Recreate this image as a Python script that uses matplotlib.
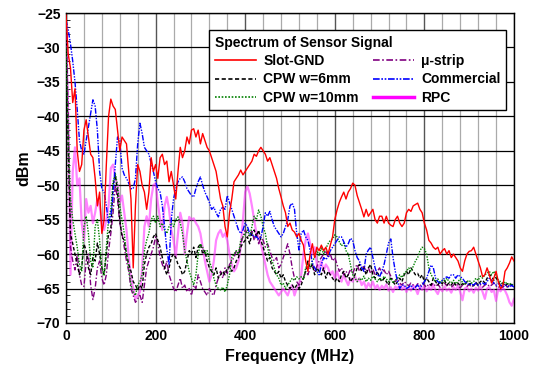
import numpy as np
import matplotlib
matplotlib.use("Agg")
import matplotlib.pyplot as plt
from matplotlib.lines import Line2D
from matplotlib.ticker import MultipleLocator

plt.rcParams["font.family"] = ["Liberation Sans", "DejaVu Sans"]
plt.rcParams["font.weight"] = "bold"

# frequency grid (MHz), 5 MHz steps
freq = np.arange(0, 1001, 5)

slot_gnd = [
    -25.3, -31, -33, -38, -36, -45, -48, -47, -42, -40.5,
    -43, -45.5, -46, -49, -53, -51, -57, -55, -47, -40,
    -37.5, -38.5, -39, -42, -45, -43, -43.5, -44, -48, -52,
    -62, -53, -47, -48, -50, -51, -53.5, -51, -46, -48,
    -47, -49, -46, -45.5, -47, -46.5, -49.5, -48, -50, -52,
    -48, -44.5, -46, -45, -43, -44, -42, -41.8, -43, -42,
    -44, -42.5, -43.5, -44.5, -45, -46, -47, -48, -50, -52,
    -53, -56, -57.5, -54, -52, -49.5, -49, -48.5, -47.8, -48.5,
    -48, -47.5, -47, -46.5, -45.5, -45.8, -45, -44.5, -45, -45.5,
    -46.5, -46, -47, -48, -49, -50.5, -51.7, -53, -54, -56,
    -55.5, -56.5, -56.8, -57.5, -57, -58, -58.7, -61, -62.5, -60,
    -58.5, -60.5, -59, -59.5, -58.7, -59.5, -59, -60, -58.7, -57.5,
    -55, -53.6, -52.5, -51.7, -51, -52, -51, -50.5, -49.7, -50,
    -51.5, -52.5, -53.5, -54.6, -53.5, -54.5, -54, -53.5, -55, -55.5,
    -54.5, -54.5, -55.5, -54.5, -55.5, -55.8, -56, -55, -54.5, -55.5,
    -56, -55.5, -54, -53.5, -53.8, -53, -52.8, -52.6, -53.5, -54,
    -55.5, -56.5, -58, -58.4, -59, -59.3, -59, -60, -59.5, -59.2,
    -60, -59.5, -60.5, -60, -60.5, -61, -62, -62.5, -61, -60,
    -59.6, -59.5, -59, -60, -61, -62, -63.3, -63, -62, -63,
    -64.2, -63.5, -62.5, -64, -65, -64.7, -62.5, -62, -61.3, -60.4,
    -61,
]

cpw_6mm = [
    -30, -45, -57, -58.5, -60, -61.5, -63, -62, -58.5, -59.5,
    -62, -63, -60.5, -61, -58.4, -60, -62, -63, -60, -57,
    -56.5, -50, -48.5, -51, -55, -57.5, -58, -60, -61.5, -62.5,
    -64, -64.5, -65.2, -64.5, -65, -61.5, -60, -59, -58.5, -57.5,
    -57, -58, -59, -60.5, -62, -63, -62, -60.5, -60, -60.5,
    -61.5, -62, -63, -62.5, -61, -59.5, -60, -59, -60.5, -59,
    -58.5, -60, -59.5, -61, -62, -62.5, -63, -62, -63.5, -63,
    -62.5, -63, -62, -61.8, -62.5, -62, -61, -60.5, -59, -58.4,
    -58, -57.5, -58.5, -57, -56.5, -57.5, -56.5, -58, -59, -60,
    -61, -60.5, -62, -62.5, -63, -62.5, -63.5, -63, -64, -64.5,
    -65, -64.5, -65, -64.5, -65, -64.5, -63.5, -62.5, -61, -62,
    -61.5, -63, -62, -62.5, -63, -62, -63.5, -62.5, -63, -63.5,
    -64, -63.5, -64, -63, -62.5, -63.5, -63, -64, -63.5, -63,
    -62, -61.5, -62.5, -62, -63, -62, -61.5, -63, -63.5, -62.5,
    -63.5, -64, -63.5, -64, -64.5, -63.5, -64, -64.5, -64, -63.5,
    -64, -63, -62.5, -63, -62, -62.5, -63, -62.8, -63.5, -63,
    -64, -63.5, -64, -64.5, -63.5, -64, -64.5, -64, -64.3, -63.8,
    -64.5, -64.2, -64.5, -64, -64.5, -64.2, -64.6, -64.3, -64.5, -64,
    -64.4, -64.2, -64.6, -64.1, -64.5, -64, -63.8, -64.2, -63.5, -63,
    -63.2, -63.8, -63.4, -64, -64.5, -64.2, -64.6, -64.3, -64.5, -64.4,
    -64.6,
]

cpw_10mm = [
    -30, -43, -52, -55, -57, -59, -61.5, -62.5, -56, -54.5,
    -57, -61, -62, -56, -55, -58, -62, -63, -59, -55,
    -53.5, -49.5, -48.3, -50, -53, -55, -57, -60, -62, -64.5,
    -65.5, -66, -64.5, -64, -63, -59.5, -58, -57, -55, -54.5,
    -55.5, -54.5, -56, -55.5, -56.5, -57, -56, -55.5, -56, -55,
    -54.6, -55.5, -57, -59.5, -61, -62.5, -63.5, -64.5, -63, -60,
    -58.5, -59, -60, -59.5, -61, -62, -63.5, -64.5, -65, -65.2,
    -64.8, -65.5, -64.5, -63, -60.5, -60, -59.5, -60, -58, -57.5,
    -57, -56.5, -57.5, -56, -54.5, -55, -53.6, -54.5, -56, -57,
    -59, -60.5, -61, -62, -63, -63.5, -64.5, -64.2, -65, -64.5,
    -64, -63.5, -63.8, -63.3, -63.6, -63.3, -63.7, -62, -61.5, -62,
    -61, -60.5, -59.5, -60.2, -59, -60, -59.2, -58.5, -58, -57.8,
    -57.2, -57.5, -58.2, -58.8, -58.4, -59.5, -60, -61.5, -63, -63.5,
    -64, -63.5, -63.8, -63.2, -64, -63.5, -63.8, -63.2, -63.6, -64,
    -63.5, -63.8, -63.2, -63.6, -64, -63.5, -64.2, -63.8, -63.5, -63,
    -63.4, -62.8, -62.5, -62, -62.5, -61.8, -61, -60.5, -59.5, -59,
    -59.2, -60, -62, -63, -63.5, -64, -63.6, -64.2, -63.8, -64,
    -63.5, -64, -64.2, -63.8, -64.3, -64, -63.6, -64.1, -64.4, -64,
    -63.8, -64.2, -64, -63.5, -63.8, -63.2, -63.5, -63, -62.8, -62.5,
    -63, -62.5, -63.2, -63.8, -64, -64.3, -64, -64.4, -64.2, -64.5,
    -64.3,
]

u_strip = [
    -26.5, -40, -59, -61, -62.3, -60, -63, -64.5, -64.7, -61,
    -60, -64.5, -66.6, -65, -62, -61, -63.5, -64.5, -63, -59.5,
    -57, -54, -50, -52, -55.5, -57, -59, -61, -62.5, -65,
    -66, -67, -66.5, -66, -67, -64.5, -62, -61, -60, -59,
    -57.5, -58.5, -60.4, -61.5, -62.3, -61, -63, -64, -65, -65.5,
    -64.5, -63.5, -65, -64.5, -65.5, -65, -66, -64.5, -65, -63,
    -64, -65, -65.5, -66, -65, -65.7, -66, -64.5, -63.5, -62.5,
    -63.5, -62, -62.8, -61.5, -61, -60.5, -59.5, -60, -58.5, -57.5,
    -56.5, -57, -57.5, -56.5, -58, -57, -58.5, -57.5, -58, -59,
    -58.5, -59.5, -60.5, -61, -60.5, -62, -61.5, -60.5, -59.5, -58.5,
    -60, -62, -63.5, -64, -64.5, -64, -63.5, -62.5, -63, -62,
    -61.5, -62.5, -61.8, -61, -60.5, -60, -59.5, -60.5, -60, -61,
    -60.5, -61.5, -62.5, -62, -63, -62.5, -63, -62.2, -62.8, -62,
    -61.5, -62.5, -62, -61.8, -62.5, -62, -62.8, -62.2, -63, -62.5,
    -62, -62.8, -62.3, -63, -62.5, -63.2, -63.8, -64, -63.5, -64.2,
    -64.5, -64, -64.3, -64.6, -64.2, -64.5, -64.8, -64.3, -64.6, -64.2,
    -64.5, -64.8, -64.3, -64.6, -64.2, -64.7, -64.4, -64.8, -64.5, -64.2,
    -64.6, -64.3, -64.8, -64.5, -64.2, -64.6, -64.9, -64.5, -64.3, -64.7,
    -64.4, -64.8, -64.5, -64.2, -64.6, -64.4, -64.8, -64.5, -64.3, -64.7,
    -64.5, -64.2, -64.6, -64.9, -64.5, -64.7, -64.3, -64.8, -64.5, -64.6,
    -64.8,
]

commercial = [
    -26, -27.5, -29.5, -32, -35, -39, -43.5, -45, -45.5, -43.5,
    -41.5, -39.5, -37.6, -38.5, -42, -48, -50.5, -51, -53, -55.5,
    -54.5, -51.5, -47, -43, -43.5, -47.5, -48.5, -49, -49.7, -50.5,
    -50.5, -49, -44, -41, -42.5, -44.5, -45, -45.5, -46.8, -48,
    -49.5, -50.5, -51, -53, -56, -59.3, -61.5, -55, -52, -50.5,
    -49.5, -49, -48.8, -49.5, -50.5, -51, -51.5, -51.7, -50.5, -49.5,
    -48.8, -50, -51, -51.7, -52.5, -53.5, -53.2, -54, -54.6, -53.5,
    -53.2, -53.5, -51.5, -52.5, -53.5, -54.5, -55.5, -56.5, -57, -56.5,
    -55.5, -56, -57, -57.2, -57.4, -57.5, -57.8, -57.6, -56, -54,
    -54.5, -53.8, -55, -56, -56.5, -57, -57.5, -57, -56, -55,
    -53, -52.6, -53.5, -57, -59.4, -57, -56.5, -57.5, -58, -59.5,
    -61.3, -62, -62.5, -63, -61.5, -60.5, -60.8, -60.4, -59.5, -59,
    -58.5, -58, -57.5, -57.5, -58.2, -59, -58.5, -57.7, -58, -59.5,
    -60.5, -61, -62, -62.5, -60, -59.4, -59, -60.5, -62, -63,
    -63.3, -62.5, -61.5, -60, -58.4, -57.8, -60.5, -62.5, -64, -65,
    -64.5, -64.5, -65, -64.8, -64.5, -65, -64.8, -64.5, -65, -64.5,
    -64, -63.5, -62.5, -61.6, -62, -63.5, -64, -64.2, -63.8, -63.5,
    -63.3, -63.5, -63, -63, -63.5, -63, -63.3, -63.5, -64, -64.2,
    -64.5, -64.3, -64.5, -64.2, -64.5, -64.3, -64.2, -64.4, -64, -63.5,
    -63.8, -64.2, -64.5, -64.3, -64.5, -64.8, -64.5, -64.6, -64.8, -64.5,
    -64.8,
]

rpc = [
    -27, -40, -63, -48, -44.5, -50, -49, -55.5, -58, -52,
    -54, -53, -55.5, -54, -52, -53, -55.5, -56.5, -55, -53,
    -47.5, -47, -49, -50, -52.5, -51.5, -54, -56.5, -60.5, -63.5,
    -65, -66.5, -66, -65.5, -62, -56, -54.5, -56, -52, -50,
    -49.7, -52.6, -55, -56.5, -53, -51.7, -53.5, -56.5, -58, -60.4,
    -57, -54, -55.5, -60, -57, -54.6, -55, -54.8, -55.5, -56,
    -57, -59, -61, -62.5, -64, -63, -61, -58, -57, -56.5,
    -57.5, -57, -58, -60, -61.5, -62.5, -62, -61, -59, -55,
    -51, -50.2, -51.2, -53, -55, -57, -57.5, -58.5, -60, -61.5,
    -63, -64, -64.5, -65, -65.5, -66, -65.5, -65, -65.5, -66,
    -65, -64.5, -66, -65, -64.5, -63, -60, -58, -57, -58.5,
    -60, -59, -61.5, -62, -61, -62.5, -61.5, -62, -63, -62.5,
    -63.5, -62.5, -63.5, -64, -63, -63.8, -64.5, -63.5, -64, -63.2,
    -64, -63.5, -64.5, -64, -65, -64.2, -64.8, -64, -65, -64.5,
    -65.2, -64.6, -65, -64.4, -65.3, -64.8, -65.5, -64.7, -65, -64.5,
    -65.2, -64.6, -65.5, -64.8, -65.3, -64.5, -65, -65.8, -64.7, -65.2,
    -64.6, -65.4, -64.8, -65.2, -64.5, -65.3, -65.8, -64.9, -65.4, -64.7,
    -65.3, -65, -65.6, -64.8, -65.2, -64.6, -65.5, -66.7, -65, -64.8,
    -65.4, -65, -65.6, -64.9, -65.3, -64.7, -65.5, -66.5, -65, -64.8,
    -65.5, -65.2, -66.8, -65, -65.4, -64.9, -65.3, -66, -67, -67.5,
    -66.5,
]

fig = plt.figure(figsize=(5.35, 3.74), dpi=100)
ax = fig.add_axes([0.1234, 0.1364, 0.8373, 0.8288])

ax.plot(freq, rpc, color="#ff33ff", lw=1.6, alpha=0.6, zorder=2)
ax.plot(freq, u_strip, color="#800080", lw=1.0, ls=(0, (4, 1.5, 1, 1.5)), zorder=3)
ax.plot(freq, cpw_6mm, color="black", lw=1.0, ls=(0, (2.5, 1.5)), zorder=4)
ax.plot(freq, cpw_10mm, color="#008000", lw=1.0, ls=(0, (1, 1)), zorder=4)
ax.plot(freq, commercial, color="#0000ff", lw=1.0, ls=(0, (4, 1, 1, 1, 1, 1)), zorder=5)
ax.plot(freq, slot_gnd, color="#ff0000", lw=1.0, zorder=6)

ax.set_xlim(0, 1000)
ax.set_ylim(-70, -25)
ax.xaxis.set_major_locator(MultipleLocator(200))
ax.xaxis.set_minor_locator(MultipleLocator(40))
ax.yaxis.set_major_locator(MultipleLocator(5))
ax.yaxis.set_minor_locator(MultipleLocator(1))
ax.grid(True, which="major", axis="y", color="black", lw=0.9)
ax.grid(True, which="major", axis="x", color="#555555", lw=1.0)
ax.grid(True, which="minor", axis="x", color="#aaaaaa", lw=0.9)
ax.tick_params(which="both", direction="in", labelsize=10)
ax.tick_params(which="minor", axis="y", length=3)
ax.tick_params(which="minor", axis="x", length=0)
ax.tick_params(which="major", length=0, pad=4)
for s in ax.spines.values():
    s.set_color("black")
    s.set_linewidth(1.0)

ax.set_xlabel("Frequency (MHz)", fontsize=11.5, fontweight="bold", labelpad=5)
ax.set_ylabel("dBm", fontsize=11.5, fontweight="bold", labelpad=4)

handles = [
    Line2D([], [], color="#ff0000", lw=1.2),
    Line2D([], [], color="black", lw=1.2, ls=(0, (2.5, 1.5))),
    Line2D([], [], color="#008000", lw=1.2, ls=(0, (1, 1))),
    Line2D([], [], color="#800080", lw=1.2, ls=(0, (4, 1.5, 1, 1.5))),
    Line2D([], [], color="#0000ff", lw=1.2, ls=(0, (4, 1, 1, 1, 1, 1))),
    Line2D([], [], color="#ff00ff", lw=2.5),
]
labels = ["Slot-GND", "CPW w=6mm", "CPW w=10mm", "\u03bc-strip", "Commercial", "RPC"]
leg = ax.legend(handles, labels, ncol=2, loc="upper right", bbox_to_anchor=(0.998, 0.966),
                title="Spectrum of Sensor Signal", fancybox=False, framealpha=1,
                edgecolor="black", handlelength=3.0, handletextpad=0.5,
                columnspacing=1.0, labelspacing=0.3, borderpad=0.4,
                prop={"size": 10, "weight": "bold"},
                title_fontproperties={"size": 10, "weight": "bold"})
leg._legend_box.align = "left"
leg.get_frame().set_linewidth(1.0)
leg.set_zorder(10)

fig.savefig("out.png", dpi=100)
